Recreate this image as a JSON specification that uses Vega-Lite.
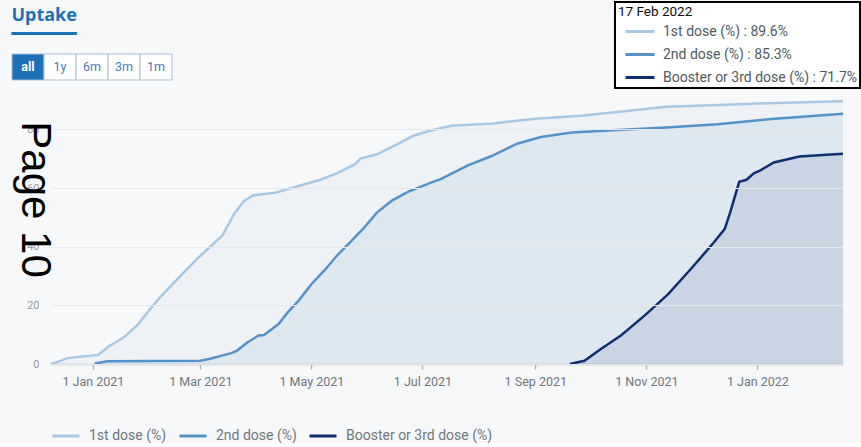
{
  "$schema": "https://vega.github.io/schema/vega-lite/v6.json",
  "background": "#f7f8fa",
  "padding": {"left": 11, "top": 1, "right": 0, "bottom": 0},
  "config": {
    "view": {"stroke": null},
    "font": "Roboto",
    "legend": {"strokeWidth": 2}
  },
  "spacing": 7,
  "resolve": {"scale": {"fill": "independent", "color": "independent", "stroke": "independent"}, "legend": {"fill": "independent", "color": "independent", "stroke": "independent"}},
  "datasets": {
    "buttons": [
      {"label": "all", "state": "selected"},
      {"label": "1y", "state": "normal"},
      {"label": "6m", "state": "normal"},
      {"label": "3m", "state": "normal"},
      {"label": "1m", "state": "normal"}
    ],
    "latest": [
      {"series": "1st dose (%)", "label": "1st dose (%) : 89.6%"},
      {"series": "2nd dose (%)", "label": "2nd dose (%) : 85.3%"},
      {"series": "Booster or 3rd dose (%)", "label": "Booster or 3rd dose (%) : 71.7%"}
    ],
    "uptake": [
      {"date": "2020-12-09", "series": "1st dose (%)", "value": 0},
      {"date": "2020-12-13", "series": "1st dose (%)", "value": 0.8},
      {"date": "2020-12-18", "series": "1st dose (%)", "value": 2.0},
      {"date": "2020-12-25", "series": "1st dose (%)", "value": 2.5},
      {"date": "2021-01-04", "series": "1st dose (%)", "value": 3.1},
      {"date": "2021-01-09", "series": "1st dose (%)", "value": 5.7},
      {"date": "2021-01-18", "series": "1st dose (%)", "value": 9.1},
      {"date": "2021-01-26", "series": "1st dose (%)", "value": 13.6},
      {"date": "2021-01-31", "series": "1st dose (%)", "value": 17.6},
      {"date": "2021-02-06", "series": "1st dose (%)", "value": 22.1},
      {"date": "2021-02-13", "series": "1st dose (%)", "value": 26.7},
      {"date": "2021-02-20", "series": "1st dose (%)", "value": 31.2},
      {"date": "2021-02-27", "series": "1st dose (%)", "value": 35.7},
      {"date": "2021-03-07", "series": "1st dose (%)", "value": 40.3},
      {"date": "2021-03-13", "series": "1st dose (%)", "value": 43.7},
      {"date": "2021-03-20", "series": "1st dose (%)", "value": 51.6},
      {"date": "2021-03-25", "series": "1st dose (%)", "value": 55.6},
      {"date": "2021-03-30", "series": "1st dose (%)", "value": 57.5},
      {"date": "2021-04-11", "series": "1st dose (%)", "value": 58.4},
      {"date": "2021-04-24", "series": "1st dose (%)", "value": 60.7},
      {"date": "2021-05-06", "series": "1st dose (%)", "value": 62.8},
      {"date": "2021-05-15", "series": "1st dose (%)", "value": 65.0},
      {"date": "2021-05-25", "series": "1st dose (%)", "value": 68.1},
      {"date": "2021-05-28", "series": "1st dose (%)", "value": 70.0},
      {"date": "2021-06-06", "series": "1st dose (%)", "value": 71.5},
      {"date": "2021-06-17", "series": "1st dose (%)", "value": 74.9},
      {"date": "2021-06-26", "series": "1st dose (%)", "value": 77.8},
      {"date": "2021-07-05", "series": "1st dose (%)", "value": 79.5},
      {"date": "2021-07-17", "series": "1st dose (%)", "value": 81.2},
      {"date": "2021-08-09", "series": "1st dose (%)", "value": 82.0},
      {"date": "2021-09-01", "series": "1st dose (%)", "value": 83.6},
      {"date": "2021-09-26", "series": "1st dose (%)", "value": 84.6},
      {"date": "2021-10-16", "series": "1st dose (%)", "value": 85.9},
      {"date": "2021-11-12", "series": "1st dose (%)", "value": 87.7},
      {"date": "2021-12-19", "series": "1st dose (%)", "value": 88.5},
      {"date": "2022-01-16", "series": "1st dose (%)", "value": 89.1},
      {"date": "2022-02-17", "series": "1st dose (%)", "value": 89.6},
      {"date": "2021-01-02", "series": "2nd dose (%)", "value": 0.2},
      {"date": "2021-01-09", "series": "2nd dose (%)", "value": 0.9},
      {"date": "2021-02-01", "series": "2nd dose (%)", "value": 1.0},
      {"date": "2021-03-01", "series": "2nd dose (%)", "value": 1.1},
      {"date": "2021-03-07", "series": "2nd dose (%)", "value": 1.9},
      {"date": "2021-03-18", "series": "2nd dose (%)", "value": 3.7},
      {"date": "2021-03-21", "series": "2nd dose (%)", "value": 4.5},
      {"date": "2021-03-27", "series": "2nd dose (%)", "value": 7.4},
      {"date": "2021-04-02", "series": "2nd dose (%)", "value": 9.7},
      {"date": "2021-04-05", "series": "2nd dose (%)", "value": 9.9},
      {"date": "2021-04-13", "series": "2nd dose (%)", "value": 13.6},
      {"date": "2021-04-18", "series": "2nd dose (%)", "value": 17.6},
      {"date": "2021-04-24", "series": "2nd dose (%)", "value": 21.6},
      {"date": "2021-05-01", "series": "2nd dose (%)", "value": 27.2},
      {"date": "2021-05-08", "series": "2nd dose (%)", "value": 31.8},
      {"date": "2021-05-15", "series": "2nd dose (%)", "value": 36.9},
      {"date": "2021-05-23", "series": "2nd dose (%)", "value": 42.0},
      {"date": "2021-05-30", "series": "2nd dose (%)", "value": 46.5},
      {"date": "2021-06-06", "series": "2nd dose (%)", "value": 51.6},
      {"date": "2021-06-14", "series": "2nd dose (%)", "value": 55.6},
      {"date": "2021-06-23", "series": "2nd dose (%)", "value": 58.7},
      {"date": "2021-07-06", "series": "2nd dose (%)", "value": 61.9},
      {"date": "2021-07-11", "series": "2nd dose (%)", "value": 63.0},
      {"date": "2021-07-26", "series": "2nd dose (%)", "value": 67.7},
      {"date": "2021-08-08", "series": "2nd dose (%)", "value": 70.9},
      {"date": "2021-08-22", "series": "2nd dose (%)", "value": 75.1},
      {"date": "2021-09-04", "series": "2nd dose (%)", "value": 77.4},
      {"date": "2021-09-21", "series": "2nd dose (%)", "value": 78.9},
      {"date": "2021-10-16", "series": "2nd dose (%)", "value": 79.8},
      {"date": "2021-11-12", "series": "2nd dose (%)", "value": 80.6},
      {"date": "2021-12-10", "series": "2nd dose (%)", "value": 81.7},
      {"date": "2022-01-07", "series": "2nd dose (%)", "value": 83.4},
      {"date": "2022-02-17", "series": "2nd dose (%)", "value": 85.3},
      {"date": "2021-09-20", "series": "Booster or 3rd dose (%)", "value": 0},
      {"date": "2021-09-28", "series": "Booster or 3rd dose (%)", "value": 1.1},
      {"date": "2021-10-07", "series": "Booster or 3rd dose (%)", "value": 5.1},
      {"date": "2021-10-18", "series": "Booster or 3rd dose (%)", "value": 9.7},
      {"date": "2021-10-31", "series": "Booster or 3rd dose (%)", "value": 16.5},
      {"date": "2021-11-13", "series": "Booster or 3rd dose (%)", "value": 23.8},
      {"date": "2021-11-27", "series": "Booster or 3rd dose (%)", "value": 33.5},
      {"date": "2021-12-08", "series": "Booster or 3rd dose (%)", "value": 41.4},
      {"date": "2021-12-14", "series": "Booster or 3rd dose (%)", "value": 46.0},
      {"date": "2021-12-17", "series": "Booster or 3rd dose (%)", "value": 51.6},
      {"date": "2021-12-22", "series": "Booster or 3rd dose (%)", "value": 62.1},
      {"date": "2021-12-26", "series": "Booster or 3rd dose (%)", "value": 62.8},
      {"date": "2021-12-30", "series": "Booster or 3rd dose (%)", "value": 65.0},
      {"date": "2022-01-02", "series": "Booster or 3rd dose (%)", "value": 65.8},
      {"date": "2022-01-10", "series": "Booster or 3rd dose (%)", "value": 68.7},
      {"date": "2022-01-24", "series": "Booster or 3rd dose (%)", "value": 70.7},
      {"date": "2022-02-17", "series": "Booster or 3rd dose (%)", "value": 71.7}
    ]
  },
  "vconcat": [
    {
      "width": 160,
      "height": 26,
      "title": {
        "text": "Uptake",
        "subtitle": "━━━━━━",
        "anchor": "start",
        "font": "Noto Sans",
        "fontSize": 18,
        "fontWeight": "bold",
        "color": "#1d70b8",
        "subtitleFont": "DejaVu Sans",
        "subtitleFontSize": 18,
        "subtitleColor": "#1d70b8",
        "subtitlePadding": 1,
        "offset": -43
      },
      "layer": [
        {
          "data": {"name": "buttons"},
          "mark": {"type": "rect", "stroke": "#a9bfd9", "strokeWidth": 1},
          "encoding": {
            "x": {"field": "label", "type": "nominal", "sort": null, "axis": null, "scale": {"paddingInner": 0, "paddingOuter": 0, "range": [-39, 121]}},
            "fill": {"field": "state", "type": "nominal", "scale": {"domain": ["selected", "normal"], "range": ["#1d70b8", "#ffffff"]}, "legend": null}
          }
        },
        {
          "data": {"name": "buttons"},
          "transform": [{"filter": "datum.state == 'selected'"}],
          "mark": {"type": "text", "fontSize": 12.5, "fontWeight": "bold", "color": "#ffffff"},
          "encoding": {
            "x": {"field": "label", "type": "nominal", "sort": null, "axis": null},
            "text": {"field": "label"}
          }
        },
        {
          "data": {"name": "buttons"},
          "transform": [{"filter": "datum.state != 'selected'"}],
          "mark": {"type": "text", "fontSize": 12.5, "color": "#4a7db5"},
          "encoding": {
            "x": {"field": "label", "type": "nominal", "sort": null, "axis": null},
            "text": {"field": "label"}
          }
        },
        {
          "data": {"name": "latest"},
          "mark": {"type": "line"},
          "encoding": {
            "stroke": {
              "field": "label",
              "type": "nominal",
              "sort": null,
              "scale": {"range": ["#a8c8e4", "#5592c8", "#102f6f"]},
              "legend": {
                "title": "17 Feb 2022",
                "orient": "none",
                "legendX": 564,
                "legendY": -52,
                "direction": "vertical",
                "fillColor": "#ffffff",
                "strokeColor": "#000000",
                "padding": 3,
                "symbolType": "stroke",
                "symbolSize": 841,
                "symbolStrokeWidth": 3,
                "symbolOffset": 6,
                "labelOffset": 7,
                "labelFontSize": 14,
                "labelColor": "#505a5f",
                "labelLimit": 300,
                "titleFontSize": 13.5,
                "titleFontWeight": "normal",
                "titleColor": "#0b0c0c",
                "titlePadding": -3,
                "rowPadding": -12.5
              }
            }
          }
        }
      ]
    },
    {
      "width": 792,
      "height": 264,
      "data": {"name": "uptake"},
      "encoding": {
        "x": {
          "field": "date",
          "type": "temporal",
          "scale": {"type": "utc"},
          "axis": {
            "values": [
              {"year": 2021, "month": 1, "date": 1, "utc": true},
              {"year": 2021, "month": 3, "date": 1, "utc": true},
              {"year": 2021, "month": 5, "date": 1, "utc": true},
              {"year": 2021, "month": 7, "date": 1, "utc": true},
              {"year": 2021, "month": 9, "date": 1, "utc": true},
              {"year": 2021, "month": 11, "date": 1, "utc": true},
              {"year": 2022, "month": 1, "date": 1, "utc": true}
            ],
            "format": "%-d %b %Y",
            "title": null,
            "grid": false,
            "labelFontSize": 12.5,
            "labelColor": "#6f777b",
            "labelPadding": 6,
            "domainColor": "#b1b4b6",
            "domainWidth": 1.5,
            "tickColor": "#b1b4b6",
            "tickSize": 5,
            "tickWidth": 1.5
          }
        },
        "y": {
          "field": "value",
          "type": "quantitative",
          "stack": null,
          "scale": {"domain": [0, 90], "nice": false},
          "axis": {
            "values": [0, 20, 40, 60, 80],
            "grid": true,
            "gridColor": "#e6e8eb",
            "domain": false,
            "ticks": false,
            "labelPadding": 12,
            "labelFontSize": 11,
            "labelColor": "#9a9a9a",
            "zindex": 1,
            "title": "Page 10",
            "titleFont": "Liberation Sans",
            "titleFontSize": 42,
            "titleFontWeight": "normal",
            "titleColor": "#000000",
            "titleAngle": 90,
            "titleX": -30,
            "titleY": 99,
            "titleAlign": "center",
            "titleBaseline": "alphabetic"
          }
        },
        "color": {
          "field": "series",
          "type": "nominal",
          "scale": {"domain": ["1st dose (%)", "2nd dose (%)", "Booster or 3rd dose (%)"], "range": ["#a8c8e4", "#5592c8", "#102f6f"]},
          "legend": {
            "title": null,
            "orient": "bottom",
            "offset": 33,
            "direction": "horizontal",
            "symbolType": "stroke",
            "symbolSize": 729,
            "symbolStrokeWidth": 3,
            "symbolOpacity": 1,
            "labelOffset": 8,
            "labelFontSize": 14,
            "labelColor": "#6f777b",
            "columnPadding": 6
          }
        }
      },
      "layer": [
        {
          "mark": {"type": "area", "fillOpacity": 0.1}
        },
        {
          "mark": {"type": "line", "strokeWidth": 2.5}
        }
      ]
    }
  ]
}
